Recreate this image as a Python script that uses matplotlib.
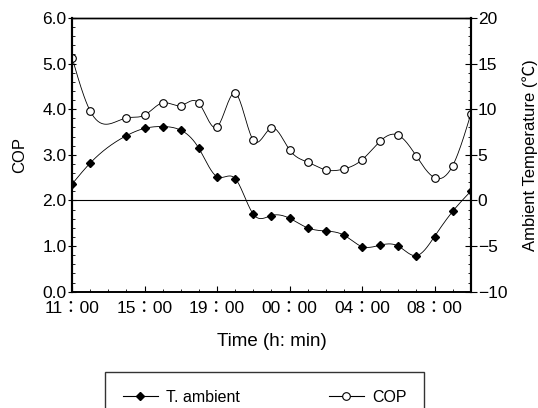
import numpy as np
import matplotlib.pyplot as plt
from matplotlib.ticker import MultipleLocator
from matplotlib.lines import Line2D

plt.rcParams['font.family'] = ['Liberation Sans', 'Noto Sans CJK JP', 'DejaVu Sans']

# hourly samples, index 2 missing in the record
idx = [0, 1, 3, 4, 5, 6, 7, 8, 9, 10, 11, 12, 13, 14, 15, 16, 17, 18, 19, 20, 21, 22]
t_amb = [1.8, 4.1, 7.1, 7.9, 8.1, 7.7, 5.7, 2.6, 2.4, -1.5, -1.65, -1.95, -3.0, -3.35,
         -3.8, -5.05, -4.9, -5.0, -6.05, -3.95, -1.2, 1.0]
cop = [5.13, 3.96, 3.81, 3.87, 4.14, 4.08, 4.13, 3.61, 4.35, 3.32, 3.59, 3.11, 2.84,
       2.67, 2.69, 2.89, 3.30, 3.43, 2.97, 2.50, 2.76, 3.89]
tick_pos = [0, 4, 8, 12, 16, 20]
tick_lab = ['11\uff1a00', '15\uff1a00', '19\uff1a00', '00\uff1a00', '04\uff1a00', '08\uff1a00']


def smooth(x, y, n=400):
    # natural cubic spline through the points, only for drawing the line
    x = np.asarray(x, float)
    y = np.asarray(y, float)
    k = len(x)
    h = np.diff(x)
    A = np.zeros((k, k))
    b = np.zeros(k)
    A[0, 0] = A[-1, -1] = 1
    for i in range(1, k - 1):
        A[i, i - 1] = h[i - 1]
        A[i, i] = 2 * (h[i - 1] + h[i])
        A[i, i + 1] = h[i]
        b[i] = 6 * ((y[i + 1] - y[i]) / h[i] - (y[i] - y[i - 1]) / h[i - 1])
    m = np.linalg.solve(A, b)
    xs = np.linspace(x[0], x[-1], n)
    j = np.clip(np.searchsorted(x, xs) - 1, 0, k - 2)
    dx = xs - x[j]
    hj = h[j]
    a = y[j]
    bb = (y[j + 1] - y[j]) / hj - hj * (2 * m[j] + m[j + 1]) / 6
    c = m[j] / 2
    d = (m[j + 1] - m[j]) / (6 * hj)
    return xs, a + bb * dx + c * dx ** 2 + d * dx ** 3


fig = plt.figure(figsize=(5.38, 4.08), dpi=100)
ax = fig.add_axes([0.134, 0.285, 0.741, 0.671])
ax2 = ax.twinx()

ax.axhline(2.0, color='k', lw=0.8)

xs, ys = smooth(idx, cop)
ax.plot(xs, ys, color='k', lw=0.6)
ax.plot(idx, cop, ls='none', marker='o', ms=5.5, mfc='white', mec='k', mew=0.8)

xs, ys = smooth(idx, t_amb)
ax2.plot(xs, ys, color='k', lw=0.6)
ax2.plot(idx, t_amb, ls='none', marker='D', ms=4, color='k')

ax.set_xlim(0, 22)
ax.set_ylim(0, 6)
ax2.set_ylim(-10, 20)

ax.set_xticks(tick_pos)
ax.set_xticklabels(tick_lab, fontsize=12.5)
ax.xaxis.set_minor_locator(MultipleLocator(1))
ax.tick_params(axis='x', which='major', direction='in', length=4, pad=7)
ax.tick_params(axis='x', which='minor', direction='in', length=2)
ax.tick_params(axis='x', top=False, which='both')

ax.yaxis.set_major_locator(MultipleLocator(1))
ax.yaxis.set_major_formatter('{x:.1f}')
ax.yaxis.set_minor_locator(MultipleLocator(0.2))
ax.tick_params(axis='y', which='major', direction='inout', length=6, labelsize=12.5, pad=1)
ax.tick_params(axis='y', which='minor', direction='in', length=2)

ax2.yaxis.set_major_locator(MultipleLocator(5))
ax2.yaxis.set_minor_locator(MultipleLocator(1))
ax2.tick_params(axis='y', which='major', direction='inout', length=8, labelsize=12.5, pad=1)
ax2.tick_params(axis='y', which='minor', direction='in', length=2)
ax2.set_yticks([-10, -5, 0, 5, 10, 15, 20])
ax2.set_yticklabels(['\u221210', '\u22125', '0', '5', '10', '15', '20'])

for a in (ax, ax2):
    a.spines['left'].set_linewidth(1.5)
    a.spines['right'].set_linewidth(1.5)
    a.spines['bottom'].set_linewidth(1.2)
    a.spines['top'].set_linewidth(1.0)

ax.set_ylabel('COP', fontsize=12, labelpad=11)
ax2.set_ylabel('Ambient Temperature (\u2103)', fontsize=12, labelpad=11)
ax.set_xlabel('Time (h: min)', fontsize=13.5, labelpad=12)

handles = [
    Line2D([], [], color='k', lw=0.8, marker='D', ms=4),
    Line2D([], [], color='k', lw=0.8, marker='o', ms=5.5, mfc='white', mec='k', mew=0.8),
]
leg = fig.legend(handles, ['T. ambient', 'COP'], loc='upper left', ncol=2,
                 bbox_to_anchor=(105 / 538, 1 - 372 / 408 - 0.05, 319 / 538, 0.05),
                 mode='expand', fontsize=11.5, frameon=True, fancybox=False,
                 edgecolor='k', handlelength=2.2, handletextpad=0.5,
                 borderpad=1.1, borderaxespad=0)
leg.get_frame().set_linewidth(1.0)

fig.savefig('out.png', dpi=100)
